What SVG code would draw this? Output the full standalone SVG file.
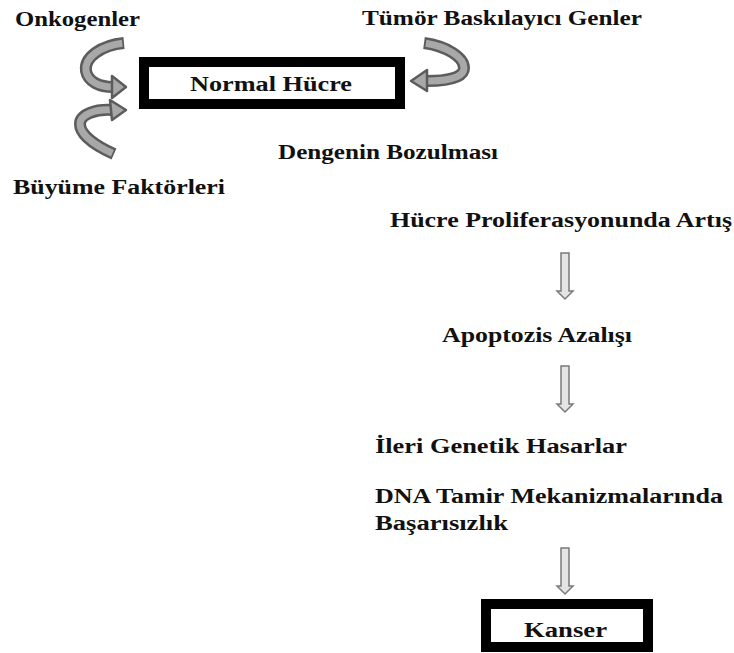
<svg xmlns="http://www.w3.org/2000/svg" width="734" height="653" viewBox="0 0 734 653">
  <style>
    .lbl { font-family: "Liberation Serif", "Times New Roman", serif; font-weight: bold; font-size: 20px; fill: #111; }
    .box { fill: #fff; stroke: #000; stroke-width: 10; }
    .band-out { fill: none; stroke: #5c5c5c; stroke-width: 12; }
    .band-in { fill: none; stroke: #a8a8a8; stroke-width: 7; stroke-dasharray: 0 2 97 10; }
    .head { fill: #a8a8a8; stroke: #5c5c5c; stroke-width: 2.5; stroke-linejoin: round; }
    .down { fill: #e4e4e4; stroke: #7a7a7a; stroke-width: 1.5; stroke-linejoin: miter; }
  </style>
  <defs>
    <!-- hollow downward arrow, tip at origin -->
    <path id="downArrow" d="M-4,-46 H4 V-8 H8 L0,0 L-8,-8 H-4 Z"/>
  </defs>

  <rect width="734" height="653" fill="#fff"/>

  <!-- nodes -->
  <g id="normal-hucre">
    <rect class="box" x="144" y="62" width="256" height="42"/>
    <text class="lbl" x="190" y="91" textLength="162" lengthAdjust="spacingAndGlyphs">Normal Hücre</text>
  </g>

  <g id="onkogenler">
    <text class="lbl" x="15" y="26" font-size="21" textLength="125" lengthAdjust="spacingAndGlyphs">Onkogenler</text>
  </g>

  <g id="tumor-baskilayici">
    <text class="lbl" x="362" y="25" font-size="21" textLength="280" lengthAdjust="spacingAndGlyphs">Tümör Baskılayıcı Genler</text>
  </g>

  <g id="buyume-faktorleri">
    <text class="lbl" x="13" y="194" font-size="21" textLength="212" lengthAdjust="spacingAndGlyphs">Büyüme Faktörleri</text>
  </g>

  <g id="dengenin-bozulmasi">
    <text class="lbl" x="278" y="159" textLength="220" lengthAdjust="spacingAndGlyphs">Dengenin Bozulması</text>
  </g>

  <g id="proliferasyon">
    <text class="lbl" x="390" y="227" textLength="342" lengthAdjust="spacingAndGlyphs">Hücre Proliferasyonunda Artış</text>
  </g>

  <g id="apoptozis">
    <text class="lbl" x="442" y="342" textLength="190" lengthAdjust="spacingAndGlyphs">Apoptozis Azalışı</text>
  </g>

  <g id="genetik-hasar">
    <text class="lbl" x="375" y="453" textLength="252" lengthAdjust="spacingAndGlyphs">İleri Genetik Hasarlar</text>
  </g>

  <g id="dna-tamir">
    <text class="lbl" x="375" y="503" textLength="348" lengthAdjust="spacingAndGlyphs">DNA Tamir Mekanizmalarında</text>
    <text class="lbl" x="375" y="530" textLength="133" lengthAdjust="spacingAndGlyphs">Başarısızlık</text>
  </g>

  <g id="kanser">
    <rect class="box" x="486" y="604" width="162" height="43"/>
    <text class="lbl" x="524" y="637" font-size="21" textLength="83" lengthAdjust="spacingAndGlyphs">Kanser</text>
  </g>

  <!-- connectors -->
  <g id="connectors">
    <!-- curved arrows into Normal Hücre -->
    <g id="arrow-onkogen">
      <path class="band-out" d="M124,43 C102,45 84,57 86,71 C88,82 100,87 113,87"/>
      <path class="band-in" pathLength="100" d="M124,43 C102,45 84,57 86,71 C88,82 100,87 113,87"/>
      <path class="head" d="M112,76 L126,87 L112,98 Z"/>
    </g>
    <g id="arrow-buyume">
      <path class="band-out" d="M114,154 C96,146 80,135 80,124 C80,114 96,109 112,110"/>
      <path class="band-in" pathLength="100" d="M114,154 C96,146 80,135 80,124 C80,114 96,109 112,110"/>
      <path class="head" d="M110,100 L126,110 L112,120 Z"/>
    </g>
    <g id="arrow-tumor">
      <path class="band-out" d="M424,43 C446,46 464,57 464,68 C464,78 446,81 427,81"/>
      <path class="band-in" pathLength="100" d="M424,43 C446,46 464,57 464,68 C464,78 446,81 427,81"/>
      <path class="head" d="M427,70 L411,81 L427,91 Z"/>
    </g>

    <!-- downward flow arrows -->
    <use href="#downArrow" class="down" transform="translate(565,299)"/>
    <use href="#downArrow" class="down" transform="translate(565,412)"/>
    <use href="#downArrow" class="down" transform="translate(565,594)"/>
  </g>
</svg>
